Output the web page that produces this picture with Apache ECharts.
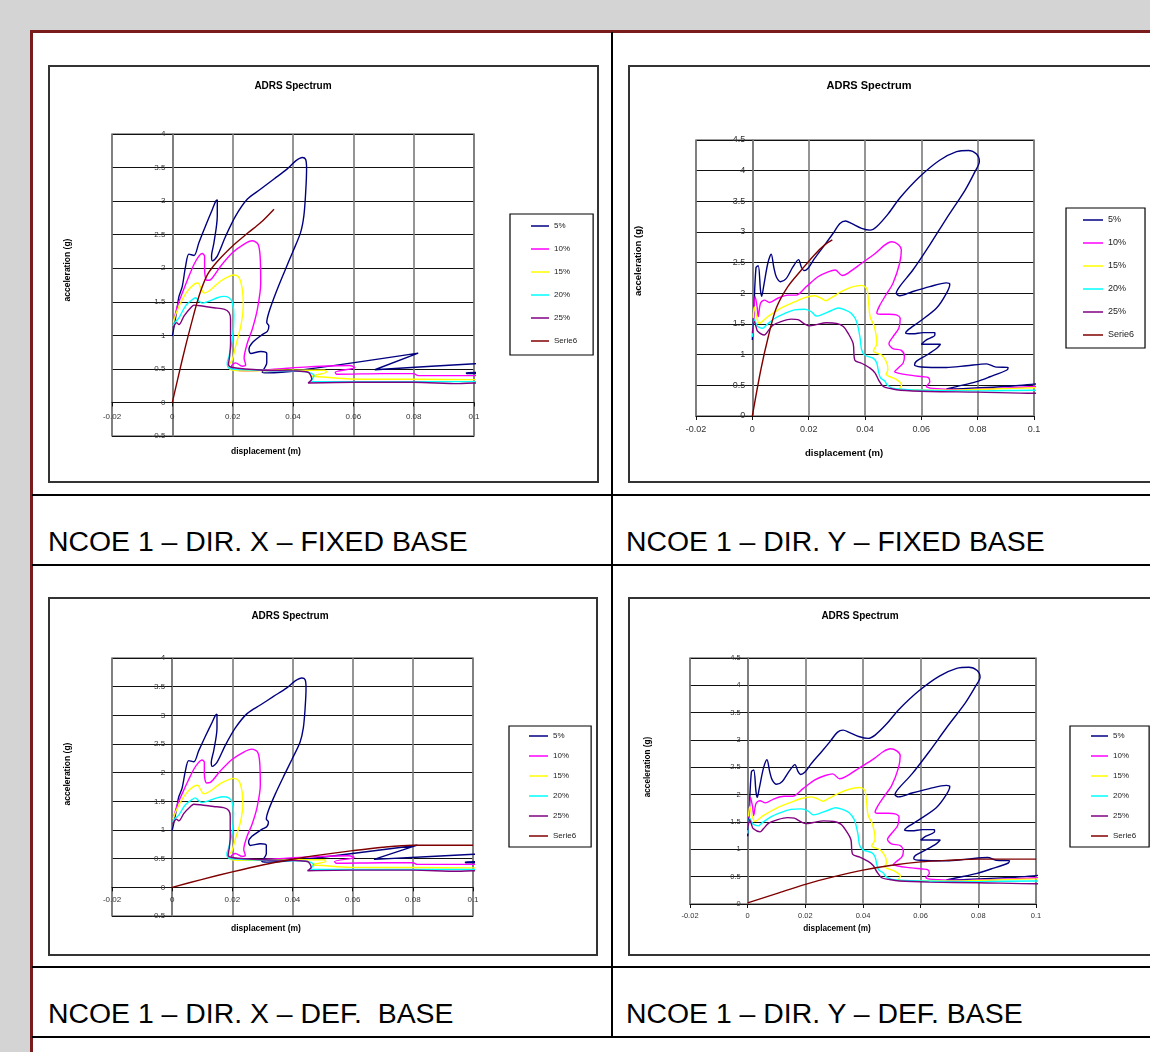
<!DOCTYPE html>
<html>
<head>
<meta charset="utf-8">
<script src="https://cdn.jsdelivr.net/npm/echarts@6/dist/echarts.min.js"></script>
<style>
body{margin:0;width:1150px;height:1052px;overflow:hidden;background:#d4d4d4;position:relative;font-family:"Liberation Sans",Arial,sans-serif;}
#page{position:absolute;left:30px;top:30px;width:1200px;height:1100px;background:#fff;border-left:3px solid #7a1c1c;border-top:3px solid #7a1c1c;}
.hline{position:absolute;left:32px;width:1130px;height:2px;background:#000;}
.vline{position:absolute;width:2px;background:#000;}
.cap{position:absolute;font-size:28.4px;line-height:28px;color:#000;white-space:nowrap;}
.chart{position:absolute;outline:2px solid #333;outline-offset:-2px;}
</style>
</head>
<body>
<div id="page"></div>
<div class="vline" style="left:611px;top:32px;height:1006px;"></div>
<div class="hline" style="top:494px;"></div>
<div class="hline" style="top:564px;"></div>
<div class="hline" style="top:966px;"></div>
<div class="hline" style="top:1036px;"></div>
<div class="cap" style="left:48px;top:527px;">NCOE 1 – DIR. X – FIXED BASE</div>
<div class="cap" style="left:626px;top:527px;">NCOE 1 – DIR. Y – FIXED BASE</div>
<div class="cap" style="left:48px;top:999px;">NCOE 1 – DIR. X – DEF.&nbsp; BASE</div>
<div class="cap" style="left:626px;top:999px;">NCOE 1 – DIR. Y – DEF. BASE</div>
<div id="c1" class="chart" style="left:48px;top:65px;width:551px;height:418px;"></div>
<div id="c2" class="chart" style="left:628px;top:65px;width:540px;height:418px;"></div>
<div id="c3" class="chart" style="left:48px;top:597px;width:550px;height:359px;"></div>
<div id="c4" class="chart" style="left:628px;top:597px;width:540px;height:359px;"></div>
<script>
//series names and colours, same for all four charts
var seriesNames = ['5%', '10%', '15%', '20%', '25%', 'Serie6'];
var seriesColors = ['#000080', '#ff00ff', '#ffff00', '#00ffff', '#800080', '#800000'];

//ADRS spectra, direction X (displacement m, acceleration g)
var dirX5 = [[0,0.99],[0.0008,1.19],[0.0017,1.44],[0.0022,1.58],[0.0033,1.73],[0.0044,2.03],[0.0055,2.21],[0.0072,2.19],[0.0088,2.38],[0.011,2.63],[0.0133,2.88],[0.0144,3.0],[0.0149,3.02],[0.0149,2.78],[0.0138,2.38],[0.013,2.18],[0.0133,2.11],[0.0149,2.18],[0.0177,2.48],[0.021,2.78],[0.0249,3.03],[0.0293,3.18],[0.0337,3.33],[0.0381,3.48],[0.0409,3.6],[0.0431,3.65],[0.0442,3.62],[0.0445,3.48],[0.0442,3.13],[0.0436,2.78],[0.0425,2.53],[0.0398,2.23],[0.037,1.93],[0.0343,1.63],[0.032,1.34],[0.0313,1.19],[0.032,1.14],[0.0315,1.06],[0.0298,1.01],[0.0265,0.89],[0.0254,0.79],[0.026,0.73],[0.0293,0.76],[0.0313,0.73],[0.0313,0.59],[0.0298,0.45],[0.0315,0.44],[0.0423,0.48],[0.0815,0.735],[0.0671,0.487],[0.1003,0.577],[0.106,0.59],[0.106,0.45],[0.0975,0.445],[0.0975,0.43],[0.106,0.43]];
var dirX10 = [[0.0006,1.24],[0.0017,1.44],[0.0033,1.63],[0.0055,1.88],[0.0072,2.06],[0.0088,2.18],[0.0099,2.22],[0.0107,2.18],[0.0107,1.98],[0.0114,1.82],[0.0127,1.83],[0.016,2.03],[0.0199,2.23],[0.0238,2.36],[0.0265,2.41],[0.0284,2.36],[0.0291,2.18],[0.0293,1.78],[0.0282,1.39],[0.0265,1.09],[0.0249,0.89],[0.0238,0.66],[0.0243,0.56],[0.0232,0.54],[0.021,0.59],[0.0196,0.54],[0.0204,0.49],[0.0249,0.47],[0.035,0.5],[0.045,0.53],[0.0588,0.55],[0.0605,0.52],[0.054,0.45],[0.0545,0.42],[0.07,0.43],[0.08,0.43],[0.0815,0.4],[0.1,0.4],[0.105,0.4]];
var dirX15 = [[0.0003,1.19],[0.0011,1.31],[0.0028,1.49],[0.005,1.66],[0.0072,1.76],[0.0085,1.78],[0.0094,1.71],[0.0105,1.63],[0.0127,1.68],[0.016,1.81],[0.0188,1.88],[0.0204,1.9],[0.0221,1.86],[0.0232,1.68],[0.0235,1.44],[0.0227,1.14],[0.021,0.84],[0.0199,0.64],[0.0188,0.55],[0.0193,0.49],[0.0238,0.47],[0.035,0.48],[0.0423,0.48],[0.0505,0.48],[0.0511,0.455],[0.0461,0.39],[0.05,0.38],[0.0589,0.35],[0.08,0.345],[0.1,0.34],[0.105,0.34]];
var dirX20 = [[0.0002,1.14],[0.001,1.2],[0.0022,1.26],[0.0044,1.44],[0.0066,1.53],[0.0077,1.56],[0.0088,1.51],[0.0099,1.48],[0.0122,1.51],[0.0149,1.56],[0.0171,1.58],[0.0188,1.56],[0.0199,1.49],[0.0204,1.29],[0.0199,0.94],[0.0188,0.69],[0.0182,0.59],[0.0188,0.51],[0.0227,0.49],[0.035,0.47],[0.044,0.46],[0.047,0.4],[0.0462,0.33],[0.046,0.31],[0.05,0.31],[0.07,0.31],[0.1,0.31],[0.105,0.31]];
var dirX25 = [[0.0002,1.1],[0.0006,1.14],[0.0014,1.19],[0.0022,1.16],[0.0039,1.29],[0.0061,1.41],[0.0072,1.45],[0.0094,1.44],[0.0138,1.41],[0.0171,1.39],[0.0188,1.34],[0.0193,1.24],[0.0193,0.89],[0.019,0.69],[0.0186,0.56],[0.0199,0.52],[0.03,0.48],[0.04,0.47],[0.045,0.45],[0.0462,0.35],[0.045,0.29],[0.06,0.3],[0.08,0.3],[0.095,0.28],[0.1,0.29],[0.105,0.29]];

//ADRS spectra, direction Y
var dirY5 = [[0,1.24],[0.0005,1.67],[0.0013,2.42],[0.0021,2.45],[0.0029,2.05],[0.0033,1.95],[0.004,2.11],[0.0055,2.49],[0.0067,2.64],[0.0076,2.43],[0.0085,2.27],[0.01,2.19],[0.012,2.24],[0.0144,2.43],[0.0164,2.55],[0.0174,2.43],[0.0183,2.37],[0.0198,2.41],[0.0221,2.57],[0.0257,2.79],[0.0287,2.98],[0.0311,3.14],[0.0331,3.18],[0.0352,3.14],[0.0388,3.06],[0.0418,3.03],[0.0442,3.09],[0.0483,3.3],[0.0523,3.55],[0.0594,3.9],[0.0665,4.17],[0.0725,4.31],[0.0767,4.33],[0.0796,4.27],[0.0806,4.15],[0.079,3.98],[0.0755,3.68],[0.0689,3.22],[0.063,2.79],[0.057,2.38],[0.0523,2.11],[0.0511,2.0],[0.0523,1.96],[0.057,2.03],[0.063,2.11],[0.0689,2.17],[0.0701,2.15],[0.0689,2.0],[0.0654,1.76],[0.0594,1.54],[0.0552,1.4],[0.0544,1.35],[0.057,1.34],[0.0606,1.36],[0.0648,1.36],[0.0648,1.32],[0.0618,1.24],[0.06,1.17],[0.063,1.17],[0.0668,1.17],[0.0654,1.1],[0.0618,0.99],[0.0582,0.89],[0.0576,0.83],[0.06,0.8],[0.0689,0.79],[0.0761,0.82],[0.0832,0.85],[0.0862,0.8],[0.0908,0.79],[0.0904,0.75],[0.0844,0.64],[0.0796,0.56],[0.0725,0.48],[0.0689,0.44],[0.0761,0.45],[0.0927,0.49],[0.1,0.52],[0.105,0.54]];
var dirY10 = [[0.0005,1.57],[0.001,1.95],[0.0017,1.78],[0.0021,1.62],[0.0029,1.84],[0.0043,1.89],[0.0061,1.85],[0.009,1.92],[0.0126,1.97],[0.0156,1.97],[0.0192,2.11],[0.0233,2.27],[0.0269,2.35],[0.0295,2.38],[0.0319,2.29],[0.034,2.33],[0.0388,2.49],[0.0436,2.65],[0.0471,2.79],[0.0495,2.84],[0.0517,2.8],[0.0529,2.71],[0.0523,2.49],[0.0499,2.16],[0.0475,1.98],[0.0452,1.8],[0.0442,1.68],[0.0455,1.66],[0.0487,1.66],[0.0511,1.65],[0.0525,1.59],[0.052,1.43],[0.0499,1.29],[0.0485,1.18],[0.0499,1.1],[0.0529,1.07],[0.054,0.97],[0.0535,0.86],[0.0517,0.78],[0.0505,0.72],[0.0517,0.7],[0.0552,0.67],[0.0606,0.64],[0.0624,0.63],[0.063,0.56],[0.0618,0.48],[0.0642,0.45],[0.0749,0.43],[0.0868,0.45],[0.1,0.48],[0.105,0.49]];
var dirY15 = [[0.0003,1.6],[0.0007,1.78],[0.0015,1.62],[0.0025,1.51],[0.0055,1.62],[0.0102,1.76],[0.015,1.86],[0.0186,1.93],[0.0221,1.96],[0.0245,1.92],[0.026,1.88],[0.0281,1.93],[0.0317,2.03],[0.0352,2.1],[0.0388,2.13],[0.0406,2.08],[0.0412,1.89],[0.0418,1.62],[0.0433,1.46],[0.0442,1.18],[0.043,1.06],[0.046,0.99],[0.0478,0.86],[0.0481,0.75],[0.0475,0.68],[0.051,0.6],[0.053,0.51],[0.0523,0.45],[0.055,0.42],[0.07,0.42],[0.085,0.44],[0.1,0.46],[0.105,0.47]];
var dirY20 = [[0,1.29],[0.0007,1.57],[0.0013,1.51],[0.0019,1.46],[0.0037,1.43],[0.0049,1.48],[0.0079,1.59],[0.0114,1.67],[0.015,1.73],[0.0186,1.74],[0.021,1.7],[0.0227,1.63],[0.0245,1.65],[0.0281,1.72],[0.0305,1.76],[0.0329,1.73],[0.0352,1.67],[0.037,1.54],[0.0382,1.29],[0.0388,1.08],[0.04,0.99],[0.043,0.94],[0.0442,0.86],[0.0448,0.72],[0.0455,0.62],[0.047,0.57],[0.048,0.5],[0.05,0.45],[0.06,0.42],[0.08,0.41],[0.1,0.42],[0.105,0.42]];
var dirY25 = [[0,1.35],[0.0007,1.54],[0.0013,1.46],[0.0019,1.38],[0.0043,1.32],[0.0055,1.38],[0.0073,1.48],[0.0102,1.54],[0.0138,1.58],[0.0162,1.57],[0.0186,1.5],[0.0204,1.47],[0.0227,1.49],[0.0263,1.52],[0.0299,1.51],[0.0323,1.46],[0.034,1.35],[0.0358,1.18],[0.0364,0.91],[0.0388,0.86],[0.0418,0.78],[0.0436,0.7],[0.0448,0.59],[0.0465,0.48],[0.0489,0.45],[0.0526,0.42],[0.063,0.4],[0.08,0.39],[0.1,0.37],[0.105,0.37]];

//capacity curves (Serie6), one per chart
var capXFixed = [[0,0],[0.0033,0.64],[0.0061,1.14],[0.0088,1.58],[0.0116,1.9],[0.0149,2.1],[0.0204,2.35],[0.0249,2.52],[0.0293,2.68],[0.0337,2.88]];
var capYFixed = [[0,0],[0.003,0.75],[0.0057,1.3],[0.0085,1.76],[0.0126,2.11],[0.0174,2.38],[0.0221,2.63],[0.0257,2.79],[0.0284,2.87]];
var capXDef = [[0,0],[0.01,0.14],[0.02,0.27],[0.03,0.39],[0.04,0.49],[0.05,0.57],[0.06,0.64],[0.07,0.7],[0.08,0.735],[0.1,0.735]];
var capYDef = [[0,0.02],[0.01,0.19],[0.02,0.36],[0.03,0.5],[0.04,0.62],[0.05,0.71],[0.06,0.77],[0.07,0.8],[0.08,0.82],[0.1,0.82]];

//axis ranges
var xMin = -0.02, xMax = 0.1, xStep = 0.02;
var yStep = 0.5;

var FONT = '"Liberation Sans", Arial, sans-serif';

function makeChart(id, s, curves) {
	var chart = echarts.init(document.getElementById(id));
	var series = curves.map(function (data, i) {
		return {
			name: seriesNames[i],
			type: 'line',
			data: data,
			smooth: 0.3,
			symbol: 'none',
			clip: true,
			lineStyle: {color: seriesColors[i], width: 1.4},
			itemStyle: {color: seriesColors[i]}
		};
	});
	//Excel crosses the axes at zero: the labels follow the axis line, so shift the
	//whole axis to the zero position (onZero only moves the line, not the labels)
	var xAxisShift = -(0 - s.yMin) / (s.yMax - s.yMin) * s.grid[3];
	var yAxisShift = -(0 - xMin) / (xMax - xMin) * s.grid[2];
	var option = {
		animation: false,
		grid: {
			left: s.grid[0], top: s.grid[1], width: s.grid[2], height: s.grid[3],
			show: true, borderColor: '#808080', borderWidth: 1.5
		},
		xAxis: {
			type: 'value', min: xMin, max: xMax, interval: xStep,
			offset: xAxisShift,
			axisLine: {show: true, onZero: false, lineStyle: {color: '#111', width: 1}},
			axisTick: {show: true, length: 4, lineStyle: {color: '#111'}},
			axisLabel: {fontSize: s.fs, color: '#333', margin: s.xMargin, fontFamily: FONT},
			splitLine: {lineStyle: {color: '#7a7a7a', width: 1.6}}
		},
		yAxis: {
			type: 'value', min: s.yMin, max: s.yMax, interval: yStep,
			offset: yAxisShift,
			axisLine: {show: true, onZero: false, lineStyle: {color: '#7a7a7a', width: 1.6}},
			axisTick: {show: true, length: 4, lineStyle: {color: '#111'}},
			axisLabel: {fontSize: s.fs, color: '#333', margin: 7, fontFamily: FONT},
			splitLine: {lineStyle: {color: '#111', width: 1.2}}
		},
		legend: {
			orient: 'vertical',
			left: s.legend.left, top: s.legend.top,
			icon: 'rect',
			itemWidth: s.legend.iw, itemHeight: 1.5, itemGap: s.legend.gap,
			padding: s.legend.pad,
			borderColor: '#000', borderWidth: 1.2,
			selectedMode: false,
			data: seriesNames,
			textStyle: {fontSize: s.lfs, lineHeight: 10, color: '#222', fontFamily: FONT}
		},
		graphic: [
			{type: 'text', x: s.title[0], y: s.title[1], style: {text: 'ADRS Spectrum', font: 'bold ' + s.tfs + 'px ' + FONT, fill: '#000', textAlign: 'center', textVerticalAlign: 'middle'}},
			{type: 'text', x: s.yName[0], y: s.yName[1], rotation: Math.PI / 2, style: {text: 'acceleration (g)', font: 'bold ' + s.nfs + 'px ' + FONT, fill: '#000', textAlign: 'center', textVerticalAlign: 'middle'}},
			{type: 'text', x: s.xName[0], y: s.xName[1], style: {text: 'displacement (m)', font: 'bold ' + s.nfs + 'px ' + FONT, fill: '#000', textAlign: 'center', textVerticalAlign: 'middle'}}
		],
		series: series
	};
	chart.setOption(option);
	return chart;
}

//X fixed base
makeChart('c1', {
	grid: [64, 69, 362, 302], yMin: -0.5, yMax: 4, fs: 8, xMargin: 10, tfs: 10, nfs: 8.5, lfs: 8,
	title: [245, 21], yName: [20, 205], xName: [218, 387],
	legend: {left: 462, top: 149, iw: 18, gap: 13, pad: [7, 16, 9, 21]}
}, [dirX5, dirX10, dirX15, dirX20, dirX25, capXFixed]);

//Y fixed base
makeChart('c2', {
	grid: [68, 75, 338, 276], yMin: 0, yMax: 4.5, fs: 9, xMargin: 9, tfs: 11, nfs: 9.5, lfs: 9,
	title: [241, 21], yName: [10, 196], xName: [216, 388],
	legend: {left: 438, top: 143, iw: 20, gap: 13, pad: [7, 11, 8, 17]}
}, [dirY5, dirY10, dirY15, dirY20, dirY25, capYFixed]);

//X deformable base
makeChart('c3', {
	grid: [64, 61, 361, 258], yMin: -0.5, yMax: 4, fs: 8, xMargin: 8, tfs: 10, nfs: 8.5, lfs: 8,
	title: [242, 19], yName: [20, 177], xName: [218, 332],
	legend: {left: 461, top: 129, iw: 19, gap: 10, pad: [5, 15, 6, 20]}
}, [dirX5, dirX10, dirX15, dirX20, dirX25, capXDef]);

//Y deformable base
makeChart('c4', {
	grid: [62, 61, 346, 246], yMin: 0, yMax: 4.5, fs: 7.5, xMargin: 8, tfs: 10, nfs: 8.2, lfs: 8,
	title: [232, 19], yName: [20, 170], xName: [209, 332],
	legend: {left: 442, top: 129, iw: 17, gap: 10, pad: [5, 13, 6, 21]}
}, [dirY5, dirY10, dirY15, dirY20, dirY25, capYDef]);
</script>
</body>
</html>
